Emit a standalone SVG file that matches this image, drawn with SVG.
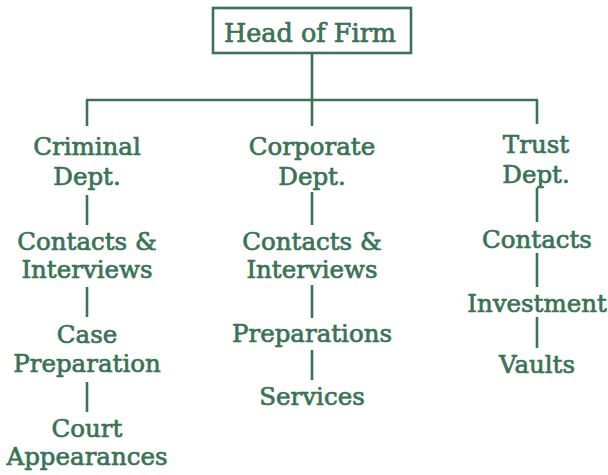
<svg xmlns="http://www.w3.org/2000/svg" width="608" height="475" viewBox="0 0 608 475">
<style>
.t{font-family:'DejaVu Serif',serif;font-size:24.5px;fill:#3a7356;stroke:#3a7356;stroke-width:0.7;text-anchor:middle}
.ln{stroke:#3a7356;stroke-width:2.6;fill:none}
</style>
<rect width="608" height="475" fill="#fff"/>
<g id="connectors">
<line class="ln" x1="312" y1="53" x2="312" y2="100"/>
<line class="ln" x1="86" y1="100" x2="538" y2="100"/>
<line class="ln" x1="87" y1="100" x2="87" y2="126"/>
<line class="ln" x1="312" y1="100" x2="312" y2="126"/>
<line class="ln" x1="537" y1="100" x2="537" y2="124"/>
<line class="ln" x1="87" y1="195" x2="87" y2="225"/>
<line class="ln" x1="87" y1="287" x2="87" y2="317"/>
<line class="ln" x1="87" y1="382" x2="87" y2="412"/>
<line class="ln" x1="312" y1="192" x2="312" y2="225"/>
<line class="ln" x1="312" y1="285" x2="312" y2="318"/>
<line class="ln" x1="312" y1="350" x2="312" y2="380"/>
<line class="ln" x1="537" y1="188" x2="537" y2="222"/>
<line class="ln" x1="537" y1="253" x2="537" y2="287"/>
<line class="ln" x1="537" y1="317" x2="537" y2="348"/>
</g>
<g id="head">
<rect class="ln" x="213" y="8" width="198" height="45"/>
<text class="t" x="310" y="42" style="font-size:25.5px">Head of Firm</text>
</g>
<g id="criminal">
<text class="t" x="87" y="155">Criminal</text>
<text class="t" x="87" y="185">Dept.</text>
</g>
<g id="crim-contacts">
<text class="t" x="87" y="250">Contacts &amp;</text>
<text class="t" x="87" y="278">Interviews</text>
</g>
<g id="crim-case">
<text class="t" x="87" y="343">Case</text>
<text class="t" x="87" y="372">Preparation</text>
</g>
<g id="crim-court">
<text class="t" x="87" y="437">Court</text>
<text class="t" x="87" y="465">Appearances</text>
</g>
<g id="corporate">
<text class="t" x="312" y="155">Corporate</text>
<text class="t" x="312" y="185">Dept.</text>
</g>
<g id="corp-contacts">
<text class="t" x="312" y="250">Contacts &amp;</text>
<text class="t" x="312" y="278">Interviews</text>
</g>
<g id="corp-prep">
<text class="t" x="312" y="342">Preparations</text>
</g>
<g id="corp-services">
<text class="t" x="312" y="405">Services</text>
</g>
<g id="trust">
<text class="t" x="536" y="153">Trust</text>
<text class="t" x="536" y="183">Dept.</text>
</g>
<g id="trust-contacts">
<text class="t" x="537" y="248">Contacts</text>
</g>
<g id="trust-investment">
<text class="t" x="537" y="312">Investment</text>
</g>
<g id="trust-vaults">
<text class="t" x="537" y="373">Vaults</text>
</g>
</svg>
